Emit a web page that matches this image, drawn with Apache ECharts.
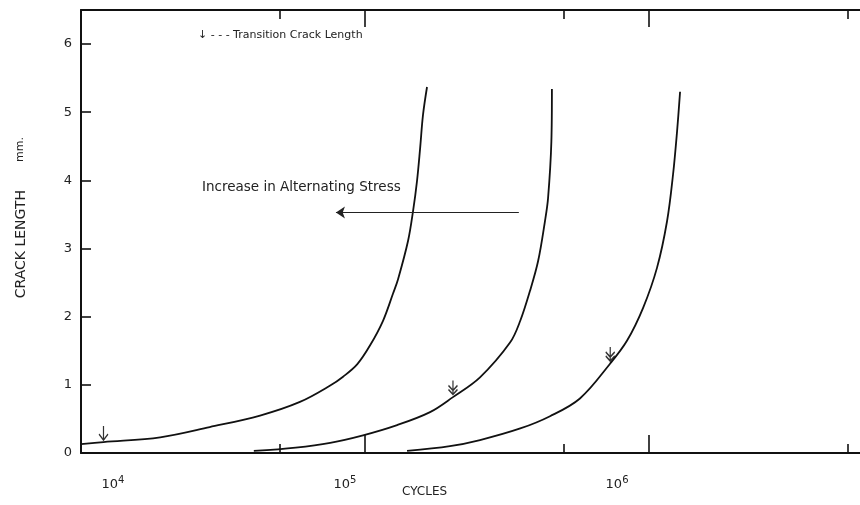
<!DOCTYPE html>
<html>
<head>
<meta charset="utf-8">
<script src="https://cdn.jsdelivr.net/npm/echarts@6/dist/echarts.min.js"></script>
<style>
  html, body { margin: 0; padding: 0; background: #fff; }
  #chart { width: 860px; height: 505px; }
</style>
</head>
<body>
<div id="chart"></div>
<script>
// cycles (N) and crack length (mm)
const curve1Cycles = [1.0e4, 1.2e4, 1.9e4, 2.84e4, 4.27e4, 5.9e4, 7.54e4, 8.37e4, 9.38e4, 1.042e5, 1.157e5, 1.255e5, 1.307e5, 1.417e5, 1.476e5, 1.524e5, 1.563e5, 1.6e5, 1.653e5]
const curve1Length = [0.13, 0.16, 0.23, 0.38, 0.55, 0.75, 0.99, 1.12, 1.3, 1.58, 1.94, 2.34, 2.55, 3.11, 3.55, 3.99, 4.47, 4.96, 5.37]

const curve2Cycles = [4.06e4, 5.7e4, 7.54e4, 9.84e4, 1.297e5, 1.694e5, 2.04e5, 2.54e5, 3.24e5, 3.52e5, 3.81e5, 4.07e5, 4.3e5, 4.41e5, 4.53e5, 4.55e5]
const curve2Length = [0.03, 0.08, 0.15, 0.26, 0.41, 0.6, 0.82, 1.11, 1.62, 1.94, 2.38, 2.82, 3.4, 3.74, 4.57, 5.34]

const curve3Cycles = [1.406e5, 1.99e5, 2.54e5, 3.52e5, 4.48e5, 5.71e5, 7.29e5, 8.37e5, 9.53e5, 1.067e6, 1.157e6, 1.215e6, 1.255e6, 1.286e6]
const curve3Length = [0.03, 0.1, 0.19, 0.36, 0.54, 0.8, 1.31, 1.65, 2.13, 2.72, 3.4, 4.09, 4.72, 5.3]

// transition crack length markers
const transCycles = [1.2e4, 2.04e5, 7.3e5]
const transLength = [0.16, 0.83, 1.32]

// axis ticks and labels
const decadeTicks = [1e4, 1e5, 1e6]
const fiveTicks = [5e4, 5e5, 5e6]
const yTicks = [0, 1, 2, 3, 4, 5, 6]

// stress arrow (from, to) at constant crack length
const stressArrowCycles = [3.48e5, 7.9e4]
const stressArrowLength = 3.53

const FONT = 'DejaVu Sans'
const X_MIN = 1e4
const X_MAX = 5.53e6

const chart = echarts.init(document.getElementById('chart'))

function pairs (xs, ys) {
  return xs.map((x, i) => [x, ys[i]])
}

// the old figure has its decade labels set off to one side of the ticks
const labelPad = {
  4: [0, 0, 0, 64],
  5: [0, 40, 0, 0],
  6: [0, 64, 0, 0]
}

function xAxisBase (position, ticks, len, showLine, showLabel) {
  return {
    type: 'log',
    logBase: 10,
    min: X_MIN,
    max: X_MAX,
    position: position,
    splitLine: { show: false },
    axisLine: { show: showLine, onZero: false, lineStyle: { color: '#111', width: 2 } },
    axisTick: { show: true, inside: true, length: len, customValues: ticks, lineStyle: { color: '#111', width: 1.6 } },
    axisLabel: { show: showLabel, customValues: decadeTicks, margin: 22 }
  }
}

function decadeFormatter (v) {
  const e = Math.round(Math.log10(v))
  return '{l' + e + '| }{b|10}{s|' + e + '}{r' + e + '| }'
}

const labelRich = {
  b: { fontFamily: FONT, fontSize: 13, color: '#222' },
  s: { fontFamily: FONT, fontSize: 10, color: '#222', padding: [0, 0, 9, 0] }
}
Object.keys(labelPad).forEach(e => {
  labelRich['l' + e] = { width: labelPad[e][3], fontSize: 1 }
  labelRich['r' + e] = { width: labelPad[e][1], fontSize: 1 }
})

const arrowSingle = 'path://M5,0 L5,14 M1,8 L5,14 L9,8'
const arrowDouble = 'path://M5,0 L5,14 M1,5 L5,10 L9,5 M1,9 L5,14 L9,9'

const bottomAxis = xAxisBase('bottom', [1e5, 1e6], 18, true, true)
bottomAxis.axisLabel.formatter = decadeFormatter
bottomAxis.axisLabel.rich = labelRich

const curveLine = { color: '#111', width: 1.8 }

const option = {
  animation: false,
  backgroundColor: '#fff',
  grid: { left: 81, right: 0, top: 10, bottom: 52, containLabel: false },
  xAxis: [
    bottomAxis,
    xAxisBase('bottom', fiveTicks, 9, false, false),
    xAxisBase('top', [1e5, 1e6], 17, true, false),
    xAxisBase('top', fiveTicks, 9, false, false)
  ],
  yAxis: {
    type: 'value',
    min: 0,
    max: 6.5,
    interval: 1,
    splitLine: { show: false },
    axisLine: { show: true, lineStyle: { color: '#111', width: 2 } },
    axisTick: { show: true, inside: true, length: 10, customValues: [1, 2, 3, 4, 5, 6], lineStyle: { color: '#111', width: 1.6 } },
    axisLabel: { customValues: yTicks, margin: 9, fontFamily: FONT, fontSize: 13, color: '#222' }
  },
  graphic: [
    { type: 'text', left: 198, top: 30, style: { text: '\u2193 - - - Transition Crack Length', font: '11px "' + FONT + '"', fill: '#222' } },
    { type: 'text', left: 202, top: 180, style: { text: 'Increase in Alternating Stress', font: '13.5px "' + FONT + '"', fill: '#222' } },
    { type: 'text', left: 402, top: 486, style: { text: 'CYCLES', font: '12px "' + FONT + '"', fill: '#222' } },
    { type: 'text', left: 14, top: 190, rotation: Math.PI / 2, style: { text: 'CRACK LENGTH', font: '14px "' + FONT + '"', fill: '#222' } },
    { type: 'text', left: 15, top: 137, rotation: Math.PI / 2, style: { text: 'mm.', font: '11px "' + FONT + '"', fill: '#222' } }
  ],
  series: [
    {
      type: 'line',
      data: pairs(curve1Cycles, curve1Length),
      smooth: 0.35,
      showSymbol: false,
      lineStyle: curveLine,
      markLine: {
        silent: true,
        symbol: ['none', 'arrow'],
        symbolSize: 9,
        label: { show: false },
        lineStyle: { color: '#222', width: 1, type: 'solid' },
        data: [[
          { coord: [stressArrowCycles[0], stressArrowLength] },
          { coord: [stressArrowCycles[1], stressArrowLength] }
        ]]
      }
    },
    {
      type: 'line',
      data: pairs(curve2Cycles, curve2Length),
      smooth: 0.35,
      showSymbol: false,
      lineStyle: curveLine
    },
    {
      type: 'line',
      data: pairs(curve3Cycles, curve3Length),
      smooth: 0.35,
      showSymbol: false,
      lineStyle: curveLine
    },
    {
      type: 'scatter',
      data: pairs(transCycles, transLength).map((p, i) => ({
        value: p,
        symbol: i === 0 ? arrowSingle : arrowDouble
      })),
      symbolSize: [9, 14],
      symbolOffset: [0, -9],
      itemStyle: { color: 'none', borderColor: '#000', borderWidth: 1.5 }
    }
  ]
}

chart.setOption(option)
</script>
</body>
</html>
